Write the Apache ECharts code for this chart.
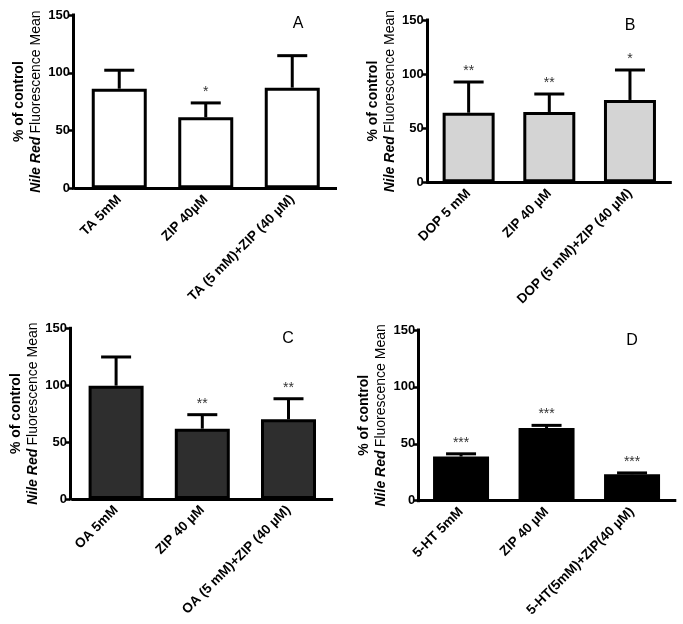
<!DOCTYPE html>
<html>
<head>
<meta charset="utf-8">
<script src="https://cdn.jsdelivr.net/npm/echarts@6/dist/echarts.min.js"></script>
<style>html,body{margin:0;padding:0;background:#fff}#c{width:683px;height:624px}</style>
</head>
<body>
<div id="c"></div>
<script>
// ---- data ----
const catsA = ['TA 5mM', 'ZIP 40\u00B5M', 'TA (5 mM)+ZIP (40 \u00B5M)'];
const meansA = [86.2, 61.5, 87.1];
const semA = [16.0, 12.4, 27.7];
const starsA = ['', '*', ''];

const catsB = ['DOP 5 mM', 'ZIP 40 \u00B5M', 'DOP (5 mM)+ZIP (40 \u00B5M)'];
const meansB = [64.3, 65.0, 76.1];
const semB = [28.4, 16.6, 27.7];
const starsB = ['**', '**', '*'];

const catsC = ['OA 5mM', 'ZIP 40 \u00B5M', 'OA (5 mM)+ZIP (40 \u00B5M)'];
const meansC = [99.6, 61.8, 70.0];
const semC = [25.2, 12.3, 18.1];
const starsC = ['', '**', '**'];

const catsD = ['5-HT 5mM', 'ZIP 40 \u00B5M', '5-HT(5mM)+ZIP(40 \u00B5M)'];
const meansD = [38.8, 63.9, 23.3];
const semD = [2.4, 2.3, 1.1];
const starsD = ['***', '***', '***'];

const yTicks = [0, 50, 100, 150];
const panelLetters = ['A', 'B', 'C', 'D'];

// ---- layout / style ----
const FONT = 'Liberation Sans, Arial, sans-serif';
const panels = [
  {cats: catsA, means: meansA, sem: semA, stars: starsA, fill: '#ffffff', grid: {left: 76, top: 15, width: 259.5, height: 173.3}, yOff: 3, barW: 55, letter: [298, 24]},
  {cats: catsB, means: meansB, sem: semB, stars: starsB, fill: '#d4d4d4', grid: {left: 428.3, top: 20, width: 242, height: 162.3}, yOff: 1.5, barW: 52, letter: [630, 26]},
  {cats: catsC, means: meansC, sem: semC, stars: starsC, fill: '#2e2e2e', grid: {left: 73, top: 328.3, width: 258.6, height: 170.7}, yOff: 3, barW: 55, letter: [288, 339]},
  {cats: catsD, means: meansD, sem: semD, stars: starsD, fill: '#000000', grid: {left: 418.3, top: 330, width: 256.5, height: 170.7}, yOff: 0, barW: 56, letter: [632, 341]}
];

const grids = [], xAxes = [], yAxes = [], series = [], graphics = [];
panels.forEach((p, k) => {
  grids.push(Object.assign({containLabel: false}, p.grid));
  xAxes.push({
    type: 'category', gridIndex: k, data: p.cats,
    axisLine: {lineStyle: {color: '#000', width: 3, cap: 'square'}},
    axisTick: {alignWithLabel: true, length: 6, lineStyle: {color: '#000', width: 2.5}},
    axisLabel: {interval: 0, rotate: 45, margin: 9, color: '#000', fontWeight: 'bold', fontSize: 13.5, fontFamily: FONT},
    splitLine: {show: false}
  });
  yAxes.push({
    type: 'value', gridIndex: k, min: yTicks[0], max: yTicks[yTicks.length - 1], interval: yTicks[1] - yTicks[0],
    offset: p.yOff,
    axisLine: {show: true, lineStyle: {color: '#000', width: 3, cap: 'square'}},
    axisTick: {show: true, length: 5, lineStyle: {color: '#000', width: 2.5}},
    axisLabel: {color: '#000', fontWeight: 'bold', fontSize: 13, fontFamily: FONT, margin: 3},
    splitLine: {show: false},
    name: '{a|% of control}\n{b|Nile Red} {c|Fluorescence Mean}',
    nameLocation: 'middle', nameRotate: 90, nameGap: 28,
    nameTextStyle: {
      fontFamily: FONT, color: '#000', lineHeight: 17, align: 'center',
      rich: {
        a: {fontSize: 14, fontWeight: 'bold', fontFamily: FONT, color: '#000', lineHeight: 17},
        b: {fontSize: 14, fontWeight: 'bold', fontStyle: 'italic', fontFamily: FONT, color: '#000', lineHeight: 17},
        c: {fontSize: 14, fontWeight: 'normal', fontFamily: FONT, color: '#000', lineHeight: 17}
      }
    }
  });
  series.push({
    type: 'bar', xAxisIndex: k, yAxisIndex: k, data: p.means, barWidth: p.barW,
    itemStyle: {color: p.fill, borderColor: '#000', borderWidth: 3},
    silent: true, animation: false
  });
  const stars = p.stars;
  series.push({
    type: 'custom', xAxisIndex: k, yAxisIndex: k, animation: false, silent: true, z: 5,
    data: p.means.map((m, i) => [i, m, p.sem[i]]),
    encode: {x: 0, y: 1},
    renderItem: function (params, api) {
      const i = api.value(0), m = api.value(1), e = api.value(2);
      const p0 = api.coord([i, m]);
      const p1 = api.coord([i, m + e]);
      const half = 15;
      const children = [
        {type: 'line', shape: {x1: p0[0], y1: p0[1], x2: p1[0], y2: p1[1]}, style: {stroke: '#000', lineWidth: 3}},
        {type: 'line', shape: {x1: p1[0] - half, y1: p1[1], x2: p1[0] + half, y2: p1[1]}, style: {stroke: '#000', lineWidth: 3}}
      ];
      const s = stars[params.dataIndex];
      if (s) {
        children.push({type: 'text', style: {text: s, x: p1[0], y: p1[1] - 11, align: 'center', verticalAlign: 'middle', fontSize: 14, fontFamily: FONT, fill: '#333'}});
      }
      return {type: 'group', children: children};
    }
  });
  graphics.push({type: 'text', x: p.letter[0], y: p.letter[1], style: {text: panelLetters[k], align: 'center', verticalAlign: 'middle', fontSize: 16, fontFamily: FONT, fill: '#000'}});
});

const chart = echarts.init(document.getElementById('c'), null, {renderer: 'canvas'});
chart.setOption({
  animation: false,
  backgroundColor: '#fff',
  grid: grids, xAxis: xAxes, yAxis: yAxes, series: series, graphic: graphics
});
</script>
</body>
</html>
